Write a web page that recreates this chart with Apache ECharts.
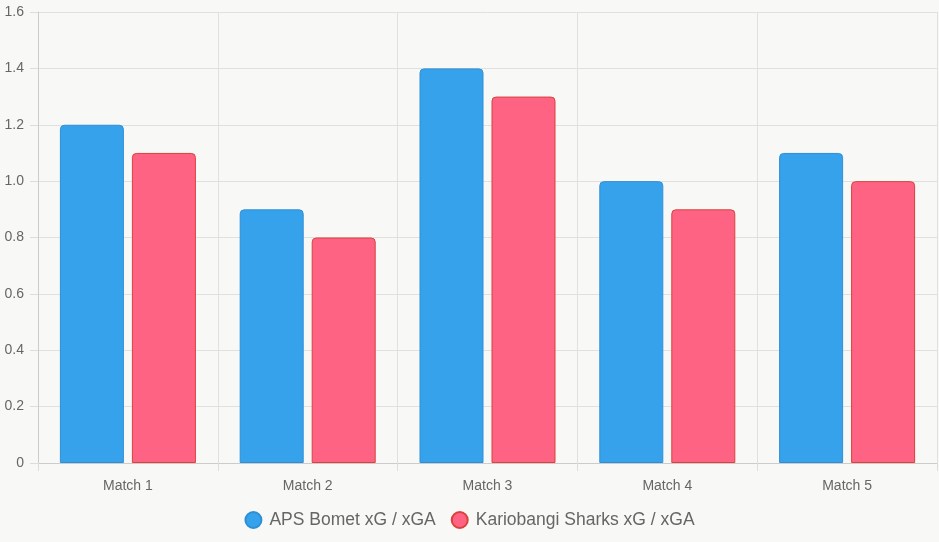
<!DOCTYPE html>
<html><head><meta charset="utf-8">
<script src="https://cdn.jsdelivr.net/npm/echarts@6/dist/echarts.min.js"></script>
<style>html,body{margin:0;padding:0;background:#f8f8f6;}#c{width:939px;height:542px;}</style>
</head><body><div id="c"></div>
<script>
const categories = ['Match 1','Match 2','Match 3','Match 4','Match 5'];
const apsBomet = [1.2, 0.9, 1.4, 1.0, 1.1];
const kariobangi = [1.1, 0.8, 1.3, 0.9, 1.0];
const seriesNames = ['APS Bomet xG / xGA','Kariobangi Sharks xG / xGA'];

const chart = echarts.init(document.getElementById('c'), null, {renderer:'canvas'});
const font = 'Liberation Sans, Arial, Helvetica, sans-serif';
chart.setOption({
  backgroundColor:'#f8f8f6',
  animation:false,
  textStyle:{fontFamily:font},
  grid:{left:38,right:2,top:12,bottom:79,containLabel:false},
  legend:{
    top:506, left:'center', icon:'circle', itemWidth:16, itemHeight:16, itemGap:15,
    textStyle:{fontSize:17.5,color:'#666',fontFamily:font,padding:[0,0,0,3]},
    data:seriesNames
  },
  xAxis:{
    type:'category', data:categories,
    axisLine:{show:true,lineStyle:{color:'#ccc'}},
    axisTick:{show:true,length:8,lineStyle:{color:'#ddd'}},
    splitLine:{show:true,lineStyle:{color:'#e0e0e0'}},
    axisLabel:{color:'#666',fontSize:14,margin:16,fontFamily:font}
  },
  yAxis:{
    type:'value', min:0, max:1.6, interval:0.2,
    axisLine:{show:true,lineStyle:{color:'#ccc'}},
    axisTick:{show:true,length:8,lineStyle:{color:'#ddd'}},
    splitLine:{show:true,lineStyle:{color:'#e0e0e0'}},
    axisLabel:{color:'#666',fontSize:14,margin:14,fontFamily:font,
      formatter:v=> v===0 ? '0' : v.toFixed(1)}
  },
  series:[
    {name:seriesNames[0], type:'bar', data:apsBomet, barWidth:64, barGap:'12.5%',
     itemStyle:{color:'#36a2eb', borderColor:'#2f8fd4', borderWidth:1, borderRadius:[4,4,0,0]}},
    {name:seriesNames[1], type:'bar', data:kariobangi, barWidth:64, barGap:'12.5%',
     itemStyle:{color:'#ff6384', borderColor:'#d9413a', borderWidth:1, borderRadius:[4,4,0,0]}}
  ]
});
</script></body></html>
